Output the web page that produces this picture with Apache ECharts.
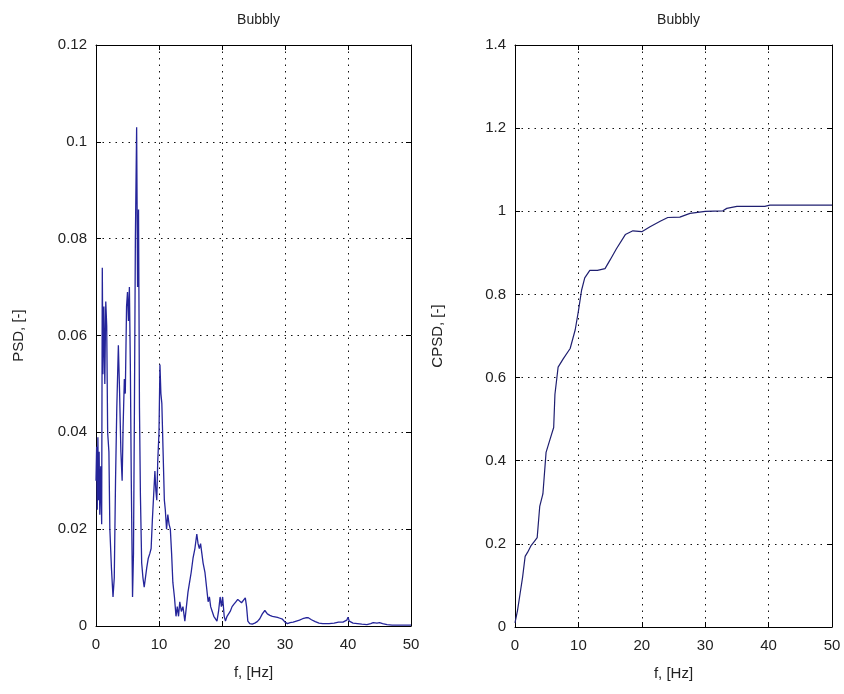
<!DOCTYPE html>
<html>
<head>
<meta charset="utf-8">
<script src="https://cdn.jsdelivr.net/npm/echarts@6/dist/echarts.min.js"></script>
<style>
html,body{margin:0;padding:0;background:#fff;}
#chart{width:844px;height:694px;}
</style>
</head>
<body>
<div id="chart"></div>
<script>
// ---- Data ----
var titles = ['Bubbly', 'Bubbly'];
var xName = 'f, [Hz]';
var yNames = ['PSD, [-]', 'CPSD, [-]'];

var psdFreq = [
  0.00,0.10,0.20,0.30,0.40,0.50,0.60,0.75,0.90,1.00,1.10,1.25,1.40,1.55,1.70,1.85,2.05,2.20,2.45,2.70,2.90,
  3.10,3.30,3.55,3.75,3.95,4.15,4.30,4.50,4.65,4.85,5.00,5.15,5.30,5.45,5.60,5.80,5.95,6.10,6.25,6.45,
  6.60,6.75,6.90,7.05,7.25,7.45,7.65,7.85,8.05,8.30,8.55,8.75,8.95,9.15,9.35,9.50,9.65,9.80,10.00,10.15,
  10.30,10.45,10.65,10.85,11.00,11.20,11.40,11.60,11.80,12.00,12.20,12.45,12.70,12.90,13.10,13.30,13.55,13.80,14.10,14.35,
  14.60,14.85,15.10,15.40,15.70,16.00,16.20,16.40,16.60,16.80,17.00,17.30,17.55,17.80,18.00,18.20,18.45,18.70,18.95,19.20,
  19.45,19.70,19.90,20.10,20.35,20.55,20.80,21.00,21.30,21.60,21.90,22.20,22.50,22.80,23.10,23.40,23.70,23.90,24.10,24.40,
  24.80,25.20,25.60,26.00,26.40,26.80,27.20,27.60,28.00,28.40,28.80,29.20,29.60,30.00,30.40,30.80,31.30,31.80,32.30,32.80,
  33.30,33.70,34.20,34.80,35.40,36.00,37.00,37.80,38.50,39.20,39.80,40.00,40.20,40.80,41.50,42.20,43.00,43.60,44.00,44.60,
  45.00,45.50,46.20,47.00,48.00,49.00,50.00
];
var psdValues = [
  0.030,0.037,0.024,0.039,0.026,0.036,0.023,0.033,0.021,0.074,0.052,0.066,0.050,0.067,0.062,0.040,0.036,0.020,0.012,0.006,0.010,
  0.030,0.045,0.058,0.048,0.036,0.030,0.041,0.051,0.048,0.066,0.069,0.063,0.070,0.054,0.030,0.006,0.015,0.045,0.080,0.103,
  0.070,0.086,0.045,0.027,0.013,0.010,0.008,0.010,0.012,0.014,0.015,0.016,0.022,0.027,0.032,0.028,0.026,0.034,0.040,0.054,
  0.048,0.046,0.036,0.026,0.024,0.020,0.023,0.021,0.020,0.015,0.009,0.006,0.002,0.004,0.002,0.005,0.003,0.004,0.001,0.004,
  0.007,0.009,0.011,0.014,0.016,0.019,0.017,0.016,0.017,0.015,0.013,0.011,0.008,0.005,0.006,0.004,0.003,0.002,0.002,0.001,
  0.003,0.006,0.004,0.006,0.002,0.001,0.002,0.002,0.003,0.004,0.0045,0.005,0.0055,0.0052,0.0048,0.005,0.0058,0.004,0.001,0.0005,
  0.0004,0.0006,0.0009,0.0015,0.0025,0.0032,0.0025,0.0022,0.0020,0.0019,0.0018,0.0016,0.0014,0.0008,0.0005,0.0007,0.0008,0.0010,0.0012,0.0015,
  0.0017,0.0017,0.0013,0.0009,0.0006,0.0005,0.0005,0.0006,0.0008,0.0008,0.0012,0.0018,0.0010,0.0006,0.0005,0.0004,0.0003,0.0005,0.0007,0.0006,
  0.0007,0.0005,0.0003,0.0002,0.0002,0.0002,0.0002
];

var cpsdFreq = [
  0.0,0.4,0.8,1.2,1.6,2.0,2.5,3.0,3.5,3.9,4.4,4.9,5.5,6.1,6.3,6.8,7.6,8.7,9.5,10.0,
  10.5,11.0,11.8,13.0,14.2,15.0,16.0,17.4,18.6,20.0,21.3,22.9,24.1,26.0,27.6,30.0,32.8,33.4,35.0,39.4,
  40.2,50.0
];
var cpsdValues = [
  0.010,0.040,0.080,0.120,0.170,0.180,0.195,0.205,0.215,0.290,0.320,0.420,0.450,0.480,0.560,0.625,0.645,0.670,0.715,0.760,
  0.810,0.840,0.858,0.858,0.862,0.883,0.910,0.944,0.953,0.951,0.963,0.976,0.985,0.986,0.995,1.000,1.001,1.007,1.012,1.012,
  1.015,1.015
];

var xTicks = {min: 0, max: 50, interval: 10};
var yTicksL = {min: 0, max: 0.12, interval: 0.02};
var yTicksR = {min: 0, max: 1.4, interval: 0.2};

function pairs(xs, ys){ var o=[]; for (var i=0;i<xs.length;i++) o.push([xs[i], ys[i]]); return o; }

var FONT = 'Liberation Sans, Arial, sans-serif';
var dotted = {color: '#111', width: 1, type: [1.5, 5]};

function mainX(gi){
  return {gridIndex: gi, type: 'value', min: xTicks.min, max: xTicks.max, interval: xTicks.interval,
    position: 'bottom', name: xName, nameLocation: 'middle', nameGap: 39,
    nameTextStyle: {fontFamily: FONT, fontSize: 15, color: '#222'},
    axisLine: {show: true, onZero: false, lineStyle: {color: '#000', width: 1}},
    axisTick: {show: true, inside: true, length: 5, lineStyle: {color: '#000'}},
    axisLabel: {fontFamily: FONT, fontSize: 15, color: '#222', margin: 11},
    splitLine: {show: true, lineStyle: dotted}};
}
function topX(gi){
  return {gridIndex: gi, type: 'value', min: xTicks.min, max: xTicks.max, interval: xTicks.interval,
    position: 'top',
    axisLine: {show: true, onZero: false, lineStyle: {color: '#000', width: 1}},
    axisTick: {show: true, inside: true, length: 5, lineStyle: {color: '#000'}},
    axisLabel: {show: false}, splitLine: {show: false}};
}
function mainY(gi, t, name){
  return {gridIndex: gi, type: 'value', min: t.min, max: t.max, interval: t.interval,
    position: 'left', name: name, nameLocation: 'middle', nameGap: 70, nameRotate: 90,
    nameTextStyle: {fontFamily: FONT, fontSize: 15, color: '#222'},
    axisLine: {show: true, onZero: false, lineStyle: {color: '#000', width: 1}},
    axisTick: {show: true, inside: true, length: 5, lineStyle: {color: '#000'}},
    axisLabel: {fontFamily: FONT, fontSize: 15, color: '#222', margin: 9},
    splitLine: {show: true, lineStyle: dotted}};
}
function rightY(gi, t){
  return {gridIndex: gi, type: 'value', min: t.min, max: t.max, interval: t.interval,
    position: 'right',
    axisLine: {show: true, onZero: false, lineStyle: {color: '#000', width: 1}},
    axisTick: {show: true, inside: true, length: 5, lineStyle: {color: '#000'}},
    axisLabel: {show: false}, splitLine: {show: false}};
}

var chart = echarts.init(document.getElementById('chart'), null, {renderer: 'canvas'});
chart.setOption({
  backgroundColor: '#ffffff',
  animation: false,
  title: [
    {text: titles[0], left: 253.5, top: 8, textAlign: 'center',
     textStyle: {fontFamily: FONT, fontSize: 14, fontWeight: 'normal', color: '#222'}},
    {text: titles[1], left: 673.5, top: 8, textAlign: 'center',
     textStyle: {fontFamily: FONT, fontSize: 14, fontWeight: 'normal', color: '#222'}}
  ],
  grid: [
    {left: 96, right: 433, top: 45, bottom: 68},
    {left: 515, right: 12, top: 45, bottom: 67}
  ],
  xAxis: [mainX(0), mainX(1), topX(0), topX(1)],
  yAxis: [mainY(0, yTicksL, yNames[0]), mainY(1, yTicksR, yNames[1]), rightY(0, yTicksL), rightY(1, yTicksR)],
  series: [
    {type: 'line', xAxisIndex: 0, yAxisIndex: 0, data: pairs(psdFreq, psdValues),
     showSymbol: false, symbol: 'none', lineStyle: {color: '#25259a', width: 1.3}, z: 5},
    {type: 'line', xAxisIndex: 1, yAxisIndex: 1, data: pairs(cpsdFreq, cpsdValues),
     showSymbol: false, symbol: 'none', lineStyle: {color: '#1f1f70', width: 1.2}, z: 5}
  ]
});
</script>
</body>
</html>
